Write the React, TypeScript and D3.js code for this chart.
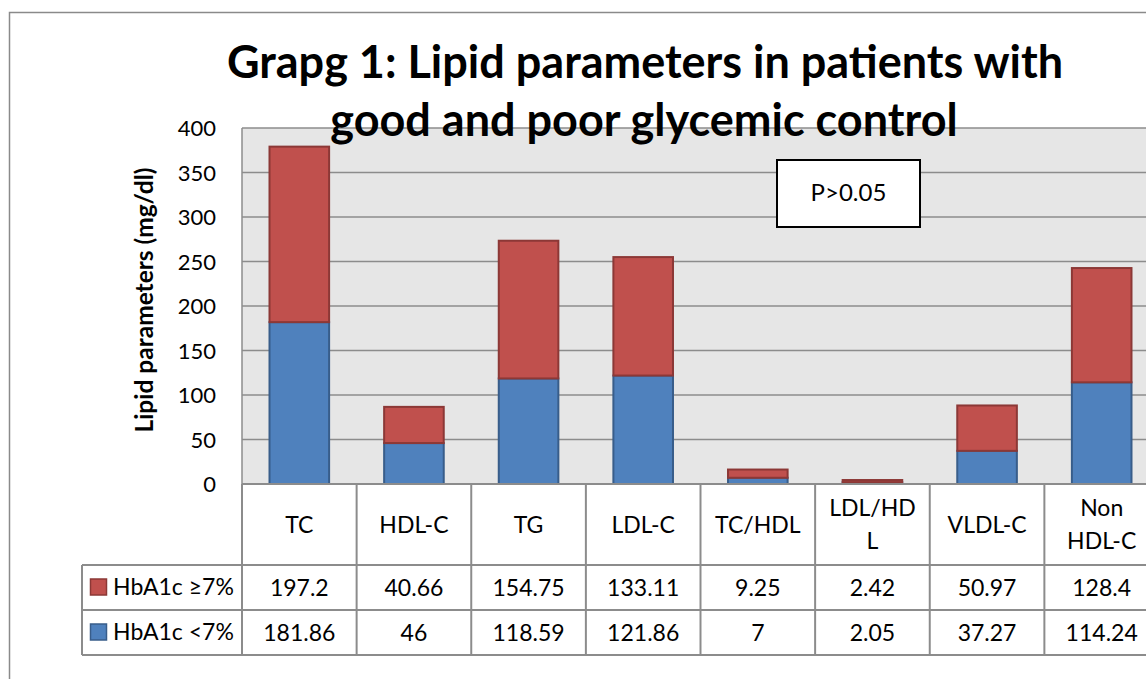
import * as d3 from "d3";

const categories = ["TC", "HDL-C", "TG", "LDL-C", "TC/HDL", "LDL/HDL", "VLDL-C", "Non HDL-C"];
const categoryLines = [["TC"], ["HDL-C"], ["TG"], ["LDL-C"], ["TC/HDL"], ["LDL/HD", "L"], ["VLDL-C"], ["Non", "HDL-C"]];
const poor = [197.2, 40.66, 154.75, 133.11, 9.25, 2.42, 50.97, 128.4];
const good = [181.86, 46, 118.59, 121.86, 7, 2.05, 37.27, 114.24];
const poorLabels = ["197.2", "40.66", "154.75", "133.11", "9.25", "2.42", "50.97", "128.4"];
const goodLabels = ["181.86", "46", "118.59", "121.86", "7", "2.05", "37.27", "114.24"];
const yTicks = [0, 50, 100, 150, 200, 250, 300, 350, 400];

const FONT = "Lato, 'Open Sans', sans-serif";
const RED = "#c0504d";
const BLUE = "#4f81bd";
const GRID = "#8c8c8c";

export default function App() {
  const W = 1146, H = 679;
  const plot = { left: 242, top: 128, right: 1159, bottom: 484 };
  const x = d3.scaleBand<string>().domain(categories).range([plot.left, plot.right]).paddingInner(0.48).paddingOuter(0.24);
  const xCell = d3.scaleBand<string>().domain(categories).range([plot.left, plot.right]);
  const y = d3.scaleLinear().domain([0, 400]).range([plot.bottom, plot.top]);

  const headerBottom = 565;
  const row1Bottom = 610;
  const row2Bottom = 655;
  const tableLeft = 82;
  const TS = 23;

  return (
    <svg width={W} height={H} style={{ position: "absolute", left: 0, top: 0, fontFamily: FONT }}>
      <rect x={0} y={0} width={W} height={H} fill="#fff" />
      <rect x={9.5} y={12.5} width={1160} height={700} fill="#fff" stroke="#8a8a8a" strokeWidth={1.5} />

      {/* plot area */}
      <rect x={plot.left} y={plot.top} width={plot.right - plot.left} height={plot.bottom - plot.top} fill="#e6e6e6" />
      {yTicks.map((t) => (
        <line key={t} x1={plot.left} x2={plot.right} y1={y(t)} y2={y(t)} stroke={GRID} strokeWidth={1.5} />
      ))}
      <line x1={plot.left} x2={plot.left} y1={plot.top} y2={plot.bottom} stroke={GRID} strokeWidth={1.5} />
      {yTicks.map((t) => (
        <text key={t} x={216} y={y(t) + 8} textAnchor="end" fontSize={22} fill="#000">{t}</text>
      ))}
      <text transform={`translate(153,300) rotate(-90)`} textAnchor="middle" fontSize={24.5} fontWeight={700}>
        Lipid parameters (mg/dl)
      </text>

      {/* bars */}
      {categories.map((c, i) => (
        <g key={c}>
          <rect x={x(c)} y={y(good[i])} width={x.bandwidth()} height={y(0) - y(good[i])} fill={BLUE} stroke="#385d8a" strokeWidth={2} />
          <rect x={x(c)} y={y(good[i] + poor[i])} width={x.bandwidth()} height={y(good[i]) - y(good[i] + poor[i])} fill={RED} stroke="#8c3836" strokeWidth={2} />
        </g>
      ))}

      {/* title */}
      <text x={645} y={78} textAnchor="middle" fontSize={45} fontWeight={700}>Grapg 1: Lipid parameters in patients with</text>
      <text x={644} y={136} textAnchor="middle" fontSize={45} fontWeight={700}>good and poor glycemic control</text>

      {/* p-value box */}
      <rect x={777} y={160} width={143} height={67} fill="#fff" stroke="#000" strokeWidth={2} />
      <text x={848.5} y={201} textAnchor="middle" fontSize={24}>P&gt;0.05</text>

      {/* data table */}
      <rect x={plot.left} y={plot.bottom} width={plot.right - plot.left} height={row2Bottom - plot.bottom} fill="#fff" />
      <g stroke={GRID} strokeWidth={2}>
        <line x1={plot.left} x2={plot.right} y1={plot.bottom} y2={plot.bottom} />
        <line x1={tableLeft} x2={plot.right} y1={headerBottom} y2={headerBottom} />
        <line x1={tableLeft} x2={plot.right} y1={row1Bottom} y2={row1Bottom} />
        <line x1={tableLeft} x2={plot.right} y1={row2Bottom} y2={row2Bottom} />
        <line x1={tableLeft} x2={tableLeft} y1={headerBottom} y2={row2Bottom} />
        <line x1={plot.left} x2={plot.left} y1={plot.bottom} y2={row2Bottom} />
        {categories.map((c) => (
          <line key={c} x1={(xCell(c) ?? 0) + xCell.bandwidth()} x2={(xCell(c) ?? 0) + xCell.bandwidth()} y1={plot.bottom} y2={row2Bottom} />
        ))}
      </g>
      {categories.map((c, i) => {
        const cx = (xCell(c) ?? 0) + xCell.bandwidth() / 2;
        const lines = categoryLines[i];
        const mid = (plot.bottom + headerBottom) / 2;
        return (
          <g key={c} fontSize={TS} textAnchor="middle">
            {lines.map((l, j) => (
              <text key={j} x={cx} y={mid + 8 + (j - (lines.length - 1) / 2) * 33}>{l}</text>
            ))}
            <text x={cx} y={(headerBottom + row1Bottom) / 2 + 8}>{poorLabels[i]}</text>
            <text x={cx} y={(row1Bottom + row2Bottom) / 2 + 8}>{goodLabels[i]}</text>
          </g>
        );
      })}
      <rect x={90.5} y={579} width={16} height={16} fill={RED} stroke="#8c3836" strokeWidth={1.5} />
      <text x={113} y={595} fontSize={TS}>HbA1c ≥7%</text>
      <rect x={90.5} y={624} width={16} height={16} fill={BLUE} stroke="#385d8a" strokeWidth={1.5} />
      <text x={113} y={640} fontSize={TS}>HbA1c &lt;7%</text>
    </svg>
  );
}
